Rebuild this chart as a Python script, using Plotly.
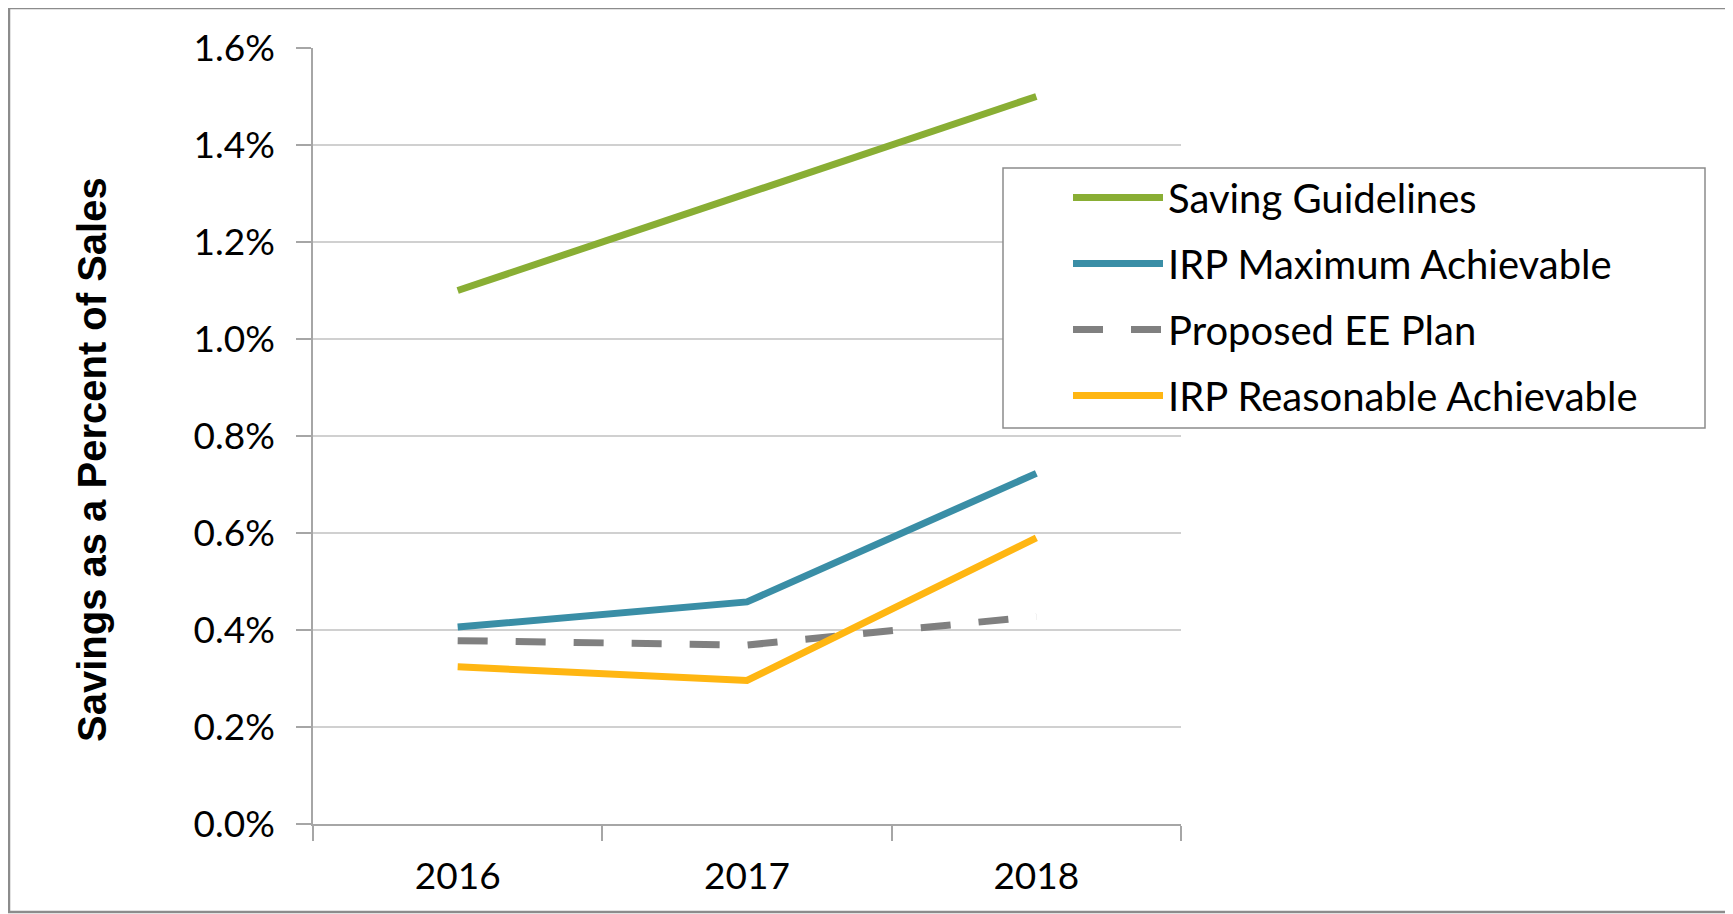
import plotly.graph_objects as go

years = ["2016", "2017", "2018"]
saving_guidelines = [0.0110, 0.0130, 0.0150]
irp_maximum = [0.00406, 0.00458, 0.00723]
proposed_ee = [0.00378, 0.00369, 0.00428]
irp_reasonable = [0.00324, 0.00296, 0.00590]

series_names = ["Saving Guidelines", "IRP Maximum Achievable", "Proposed EE Plan", "IRP Reasonable Achievable"]
series_values = [saving_guidelines, irp_maximum, proposed_ee, irp_reasonable]
series_colors = ["#89AE34", "#3A8EA6", "#808080", "#FFB612"]
series_dash = ["solid", "solid", "30px,28px", "solid"]

# page body has an 8px default margin; work in screen coords and offset
OFF = 8
W, H = 1733 - OFF, 914 - OFF
L, R, T, B = 313 - OFF, 1181 - OFF, 48 - OFF, 824 - OFF
pw, ph = R - L, B - T

FONT = "Lato"
TICK_SIZE = 37
LEGEND_SIZE = 40

fig = go.Figure()
for name, vals, col, dash in zip(series_names, series_values, series_colors, series_dash):
    fig.add_trace(go.Scatter(
        x=years, y=vals, name=name, mode="lines",
        legendgroup=name,
        line=dict(color=col, width=7, dash=dash),
    ))

def px_x(x):
    return (x - OFF - L) / pw

def px_y(y):
    return (B - (y - OFF)) / ph

fig.update_layout(
    width=W, height=H,
    margin=dict(l=L, r=W - R, t=T, b=H - B, autoexpand=False),
    plot_bgcolor="white", paper_bgcolor="white",
    font=dict(family=FONT, size=TICK_SIZE, color="#000000"),
    showlegend=True,
    legend=dict(
        x=px_x(1068), y=px_y(165), xanchor="left", yanchor="top",
        borderwidth=0, bgcolor="rgba(0,0,0,0)",
        font=dict(family=FONT, size=LEGEND_SIZE, color="#000000"),
        traceorder="grouped", tracegroupgap=11,
        itemwidth=90,
    ),
    xaxis=dict(
        type="category", range=[-0.5, 2.5], showgrid=False,
        showline=True, linecolor="#A6A6A6", linewidth=1.5,
        ticks="outside", ticklen=15, tickcolor="#A6A6A6", tickwidth=1.5,
        tickson="boundaries", ticklabelstandoff=19,
        tickfont=dict(family=FONT, size=TICK_SIZE, color="#000000"),
        fixedrange=True,
    ),
    yaxis=dict(
        range=[0, 0.016], tickvals=[i * 0.002 for i in range(9)],
        tickformat=".1%",
        showgrid=True, gridcolor="#D0D0D0", gridwidth=1.5,
        showline=True, linecolor="#A6A6A6", linewidth=1.5,
        ticks="outside", ticklen=15, tickcolor="#A6A6A6", tickwidth=1.5,
        ticklabelstandoff=14, zeroline=False,
        tickfont=dict(family=FONT, size=TICK_SIZE, color="#000000"),
        fixedrange=True,
    ),
    annotations=[dict(
        text="<b>Savings as a Percent of Sales</b>",
        xref="paper", yref="paper", x=px_x(92), y=px_y(460),
        xanchor="center", yanchor="middle", textangle=-90, showarrow=False,
        font=dict(family="Liberation Sans", size=40, color="#000000"),
    )],
    shapes=[
        dict(
            type="rect", xref="paper", yref="paper",
            x0=px_x(9), x1=px_x(1727), y0=px_y(912), y1=px_y(8),
            line=dict(color="#8C8C8C", width=2.5), layer="below",
        ),
        dict(
            type="rect", xref="paper", yref="paper",
            x0=px_x(1003), x1=px_x(1705), y0=px_y(428), y1=px_y(168),
            line=dict(color="#8C8C8C", width=1.5), fillcolor="white", layer="above",
        ),
    ],
)

fig.write_html("out.html")
